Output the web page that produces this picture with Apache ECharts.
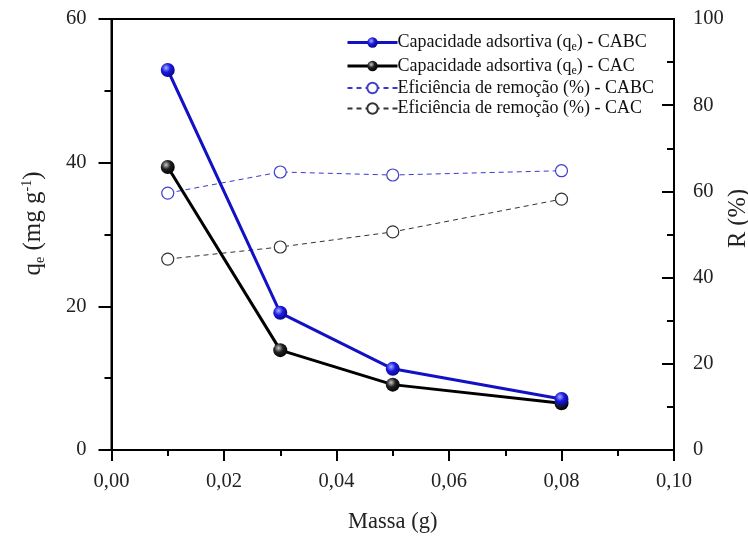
<!DOCTYPE html>
<html>
<head>
<meta charset="utf-8">
<script src="https://cdn.jsdelivr.net/npm/echarts@6/dist/echarts.min.js"></script>
<style>html,body{margin:0;padding:0;background:#fff;}#c{width:748px;height:543px;}</style>
</head>
<body>
<div id="c"></div>
<script>
const mass = [0.01, 0.03, 0.05, 0.08];
const qeCABC = [52.9, 19.1, 11.3, 7.1];
const qeCAC = [39.4, 13.9, 9.1, 6.5];
const rCABC = [59.6, 64.5, 63.8, 64.8];
const rCAC = [44.3, 47.1, 50.6, 58.2];
const seriesNames = [
  'Capacidade adsortiva (qe) - CABC',
  'Capacidade adsortiva (qe) - CAC',
  'Eficiência de remoção (%) - CABC',
  'Eficiência de remoção (%) - CAC'
];

const FF = 'Liberation Serif';
const pairs = arr => mass.map((m, i) => [m, arr[i]]);
const ball = (c0, c1, c2) => ({
  type: 'radial', x: 0.38, y: 0.35, r: 0.7,
  colorStops: [{offset: 0, color: c0}, {offset: 0.45, color: c1}, {offset: 1, color: c2}]
});

const chart = echarts.init(document.getElementById('c'), null, {renderer: 'canvas'});
const axisLine = {show: true, onZero: false, lineStyle: {color: '#000', width: 2}};
const labelStyle = {color: '#222', fontFamily: FF, fontSize: 20.5};

chart.setOption({
  animation: false,
  backgroundColor: '#fff',
  grid: {left: 111.5, right: 74, top: 19, bottom: 93, show: true, borderColor: '#000', borderWidth: 2,
         containLabel: false, outerBoundsMode: 'none'},
  legend: {
    top: 27, left: 341, orient: 'vertical', itemWidth: 50, itemHeight: 13, itemGap: 2.5,
    data: seriesNames.map((n, i) => i < 2 ? {name: n, lineStyle: {width: 3}} : {name: n}),
    formatter: n => n.indexOf('(qe)') >= 0
      ? '{a|' + n.split('(qe)')[0] + '(q}{sub|e}{a|)' + n.split('(qe)')[1] + '}'
      : '{a|' + n + '}',
    textStyle: {
      fontFamily: FF, color: '#111', padding: [0, 0, 0, -5],
      rich: {
        a: {fontFamily: FF, fontSize: 18, color: '#111', lineHeight: 19},
        sub: {fontFamily: FF, fontSize: 12, color: '#111', lineHeight: 19, padding: [9, 0, 0, 0]}
      }
    }
  },
  xAxis: {
    type: 'value', min: 0, max: 0.1, interval: 0.02,
    name: 'Massa (g)', nameLocation: 'middle', nameGap: 61, nameMoveOverlap: false,
    nameTextStyle: {fontFamily: FF, fontSize: 22.5, color: '#222'},
    axisLine: axisLine,
    axisTick: {show: true, length: 11, lineStyle: {color: '#000', width: 2}},
    minorTick: {show: true, splitNumber: 2, length: 6, lineStyle: {color: '#000', width: 2}},
    axisLabel: Object.assign({margin: 21, formatter: v => v.toFixed(2).replace('.', ',')}, labelStyle),
    splitLine: {show: false}
  },
  yAxis: [{
    type: 'value', min: 0, max: 60, interval: 20, position: 'left',
    name: '{a|q}{sub|e}{a| (mg g}{sup|-1}{a|)}', nameLocation: 'middle', nameGap: 64, nameRotate: 90,
    nameMoveOverlap: false,
    nameTextStyle: {
      fontFamily: FF, fontSize: 25, color: '#222', padding: [0, 0, 0, 22],
      rich: {
        a: {fontFamily: FF, fontSize: 25, color: '#222', lineHeight: 28},
        sub: {fontFamily: FF, fontSize: 14, color: '#222', lineHeight: 28, padding: [13, 0, 0, 0]},
        sup: {fontFamily: FF, fontSize: 14, color: '#222', lineHeight: 28, padding: [0, 0, 13, 0]}
      }
    },
    axisLine: axisLine,
    axisTick: {show: true, length: 13, lineStyle: {color: '#000', width: 2}},
    minorTick: {show: true, splitNumber: 2, length: 7, lineStyle: {color: '#000', width: 2}},
    axisLabel: Object.assign({margin: 25}, labelStyle),
    splitLine: {show: false}
  }, {
    type: 'value', min: 0, max: 100, interval: 20, position: 'right',
    name: 'R (%)', nameLocation: 'middle', nameGap: 52, nameRotate: 90, nameMoveOverlap: false,
    nameTextStyle: {fontFamily: FF, fontSize: 24.5, color: '#222', padding: [0, 0, 0, 32]},
    axisLine: axisLine,
    axisTick: {show: true, inside: true, length: 12, lineStyle: {color: '#000', width: 2}},
    minorTick: {show: true, splitNumber: 2, length: 7, lineStyle: {color: '#000', width: 2}},
    axisLabel: Object.assign({margin: 19}, labelStyle),
    splitLine: {show: false}
  }],
  series: [
    {
      name: seriesNames[2], type: 'line', yAxisIndex: 1, data: pairs(rCABC),
      symbol: 'circle', symbolSize: 12, z: 2,
      lineStyle: {color: '#3a3ad0', width: 1, type: [5, 4]},
      itemStyle: {color: '#fff', borderColor: '#4040c8', borderWidth: 1.2}
    },
    {
      name: seriesNames[3], type: 'line', yAxisIndex: 1, data: pairs(rCAC),
      symbol: 'circle', symbolSize: 12, z: 2,
      lineStyle: {color: '#333', width: 1, type: [5, 4]},
      itemStyle: {color: '#fff', borderColor: '#333', borderWidth: 1.2}
    },
    {
      name: seriesNames[0], type: 'line', yAxisIndex: 0, data: pairs(qeCABC),
      symbol: 'circle', symbolSize: 14, z: 4,
      lineStyle: {color: '#1212c4', width: 3},
      itemStyle: {color: ball('#a8b0ff', '#1a1ae0', '#060680'), borderWidth: 0}
    },
    {
      name: seriesNames[1], type: 'line', yAxisIndex: 0, data: pairs(qeCAC),
      symbol: 'circle', symbolSize: 14, z: 3,
      lineStyle: {color: '#000', width: 3},
      itemStyle: {color: ball('#c8c8c8', '#202020', '#000'), borderWidth: 0}
    }
  ]
});
</script>
</body>
</html>
